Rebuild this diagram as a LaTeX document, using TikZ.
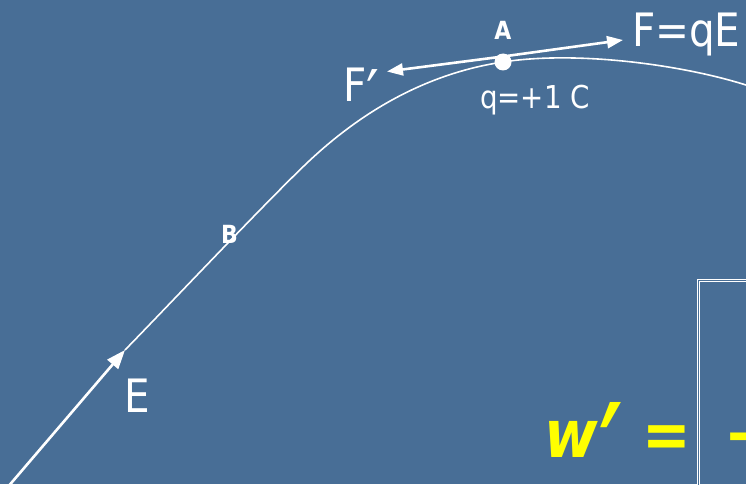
\documentclass[tikz,border=0pt]{standalone}
\usepackage{fontspec}
\setmainfont{DejaVu Sans}[FakeStretch=0.88]
\usetikzlibrary{arrows.meta}
\definecolor{bg}{RGB}{72,110,150}
\definecolor{eqyellow}{RGB}{255,255,0}
\begin{document}
\begin{tikzpicture}[x=1pt,y=-1pt,
  lbl/.style={text=white,inner sep=0pt,outer sep=0pt},
  biglbl/.style={lbl,font=\fontsize{46}{50}\selectfont},
  ptlbl/.style={lbl,font=\bfseries\fontsize{25}{28}\selectfont},
  eqtext/.style={text=eqyellow,inner sep=0pt,outer sep=0pt,font=\bfseries\itshape\fontsize{66}{70}\selectfont},
  fieldline/.style={white,line width=1.6pt},
  forcearrow/.style={white,line width=2.6pt,-{Triangle[length=16pt,width=12pt]}},
  earrow/.style={white,line width=2.6pt,-{Triangle[length=19pt,width=14pt]}}]
\useasboundingbox (0,0) rectangle (746,484);
\clip (0,0) rectangle (746,484);
\fill[bg] (0,0) rectangle (746,484);

% field line
\coordinate (start) at (7,488);
\coordinate (Etip) at (125,350);
\coordinate (M) at (307,163);
\coordinate (A) at (503,62);
\coordinate (Atop) at (503,56.5);
\coordinate (end) at (752,87);
\draw[earrow] (start) -- (Etip);
\draw[fieldline] (Etip) .. controls (165,309) and (267,201) .. (M)
  .. controls (367,106) and (433,72.5) .. (A)
  .. controls (580,50) and (690,66) .. (end);

% forces at A
\coordinate (Ftip) at (623,40);
\coordinate (Fptip) at (387,71.5);
\draw[forcearrow] (Atop) -- (Ftip);
\draw[forcearrow] (Atop) -- (Fptip);
\fill[white] (A) circle (8.5pt);

% labels
\node[biglbl,anchor=base west] (Flab) at (632,47) {F=qE};
\node[biglbl,anchor=base west] (Fplab) at (343,102) {F\raisebox{-15pt}{\scalebox{1.4}{′}}};
\node[biglbl,anchor=base west] (Elab) at (124,412) {E};
\node[ptlbl,anchor=base] (Alab) at (503,40) {A};
\node[ptlbl,anchor=base west] (Blab) at (221,243) {B};
\node[lbl,anchor=base west,font=\fontsize{31.5}{34}\selectfont] (qlab) at (480,109) {q=+1 C};

% box
\coordinate (boxbl) at (698.5,490);
\coordinate (boxtl) at (698.5,280.5);
\coordinate (boxtr) at (752,280.5);
\draw[white,line width=0.9pt,double=bg,double distance=0.9pt] (boxbl) -- (boxtl) -- (boxtr);

% equation
\node[eqtext,anchor=base west] (wp) at (544,457) {w\kern3pt\smash{\raisebox{-46pt}{\scalebox{1.4}[2.1]{′}}}};
\node[eqtext,anchor=base west] (eq) at (642,457) {=};
\node[eqtext,anchor=base west] (minus) at (724,457) {−};
\end{tikzpicture}
\end{document}
